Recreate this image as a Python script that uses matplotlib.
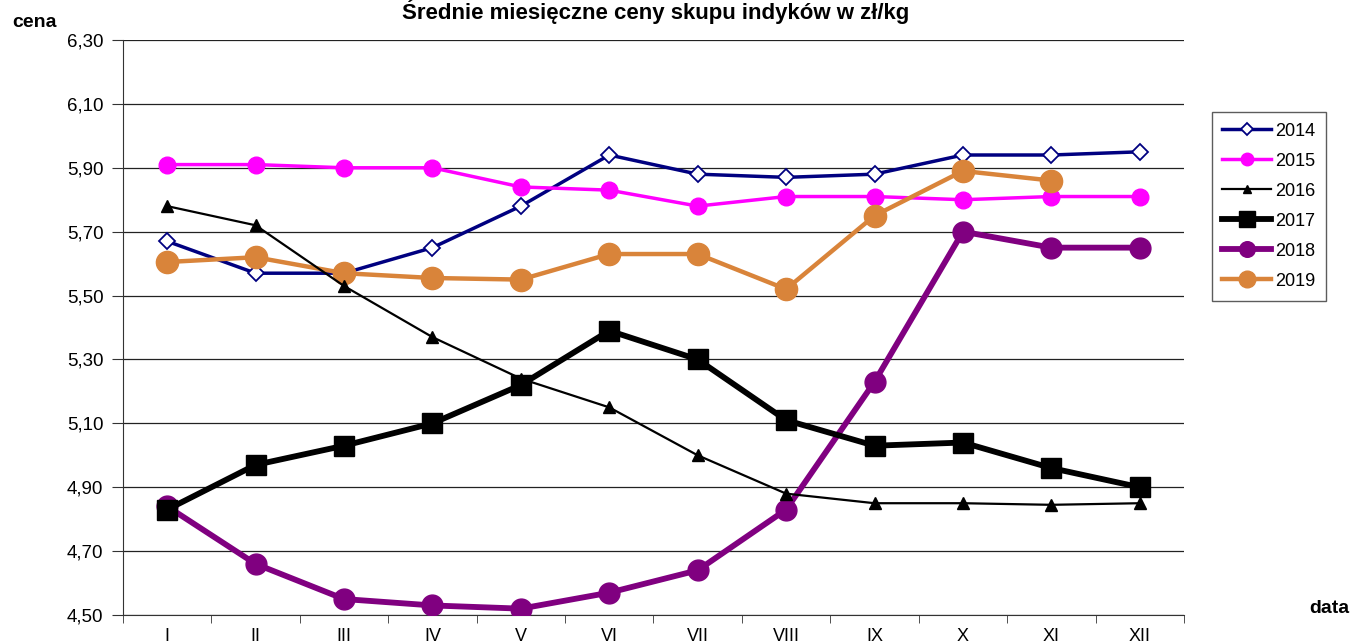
import numpy as np
import matplotlib.pyplot as plt

months = ['I', 'II', 'III', 'IV', 'V', 'VI', 'VII', 'VIII', 'IX', 'X', 'XI', 'XII']
y2014 = [5.67, 5.57, 5.57, 5.65, 5.78, 5.94, 5.88, 5.87, 5.88, 5.94, 5.94, 5.95]
y2015 = [5.91, 5.91, 5.90, 5.90, 5.84, 5.83, 5.78, 5.81, 5.81, 5.80, 5.81, 5.81]
y2016 = [5.78, 5.72, 5.53, 5.37, 5.24, 5.15, 5.00, 4.88, 4.85, 4.85, 4.845, 4.85]
y2017 = [4.83, 4.97, 5.03, 5.10, 5.22, 5.39, 5.30, 5.11, 5.03, 5.04, 4.96, 4.90]
y2018 = [4.84, 4.66, 4.55, 4.53, 4.52, 4.57, 4.64, 4.83, 5.23, 5.70, 5.65, 5.65]
y2019 = [5.605, 5.62, 5.57, 5.555, 5.55, 5.63, 5.63, 5.52, 5.75, 5.89, 5.86, np.nan]
yticks = [4.50, 4.70, 4.90, 5.10, 5.30, 5.50, 5.70, 5.90, 6.10, 6.30]

plt.rcParams['font.family'] = ['Liberation Sans', 'DejaVu Sans']

fig = plt.figure(figsize=(13.57, 6.43), dpi=100)
ax = fig.add_axes([0.0906, 0.0435, 0.7819, 0.8943])
x = np.arange(len(months))

ax.plot(x, y2014, color='#000080', lw=2.5, marker='D', ms=8, mfc='white', mec='#000080', mew=1.3, label='2014', zorder=3)
ax.plot(x, y2015, color='#FF00FF', lw=2.5, marker='o', ms=12, label='2015', zorder=3)
ax.plot(x, y2016, color='black', lw=1.6, marker='^', ms=8, label='2016', zorder=4)
ax.plot(x, y2017, color='black', lw=4.2, marker='s', ms=15, label='2017', zorder=4)
ax.plot(x, y2018, color='#800080', lw=4.2, marker='o', ms=15, label='2018', zorder=3)
ax.plot(x, y2019, color='#D9843A', lw=3.2, marker='o', ms=16, label='2019', zorder=3)

ax.set_xlim(-0.5, len(months) - 0.5)
ax.set_ylim(4.50, 6.30)
ax.set_xticks(x)
ax.set_xticklabels(months, fontsize=13)
ax.set_xticks(np.arange(-0.5, len(months)), minor=True)
ax.tick_params(axis='x', which='major', length=0, pad=9)
ax.tick_params(axis='x', which='minor', length=6, direction='out', color='#333333')
ax.set_yticks(yticks)
ax.set_yticklabels([f'{v:.2f}'.replace('.', ',') for v in yticks], fontsize=13.5)
ax.tick_params(axis='y', length=8, direction='out', color='#333333', pad=6)
ax.yaxis.grid(True, color='#222222', lw=0.9)
ax.set_axisbelow(True)
for s in ['top', 'right']:
    ax.spines[s].set_visible(False)
ax.spines['left'].set_color('#333333')
ax.spines['bottom'].set_color('#333333')

# title sits at the very top, as in the source image
fig.text(0.4835, 0.971, 'Średnie miesięczne ceny skupu indyków w zł/kg', ha='center', va='baseline',
         fontsize=16, fontweight='bold')
fig.text(0.009, 0.958, 'cena', ha='left', va='baseline', fontsize=14, fontweight='bold')
fig.text(0.965, 0.047, 'data', ha='left', va='baseline', fontsize=14, fontweight='bold')

leg = ax.legend(loc='upper left', bbox_to_anchor=(1.026, 0.875), frameon=True, fancybox=False,
                fontsize=13, handlelength=2.7, labelspacing=0.72, markerscale=0.75,
                borderpad=0.6, handletextpad=0.2, borderaxespad=0)
leg.get_frame().set_edgecolor('#333333')
leg.get_frame().set_linewidth(1.0)

fig.savefig('out.png', dpi=100)
